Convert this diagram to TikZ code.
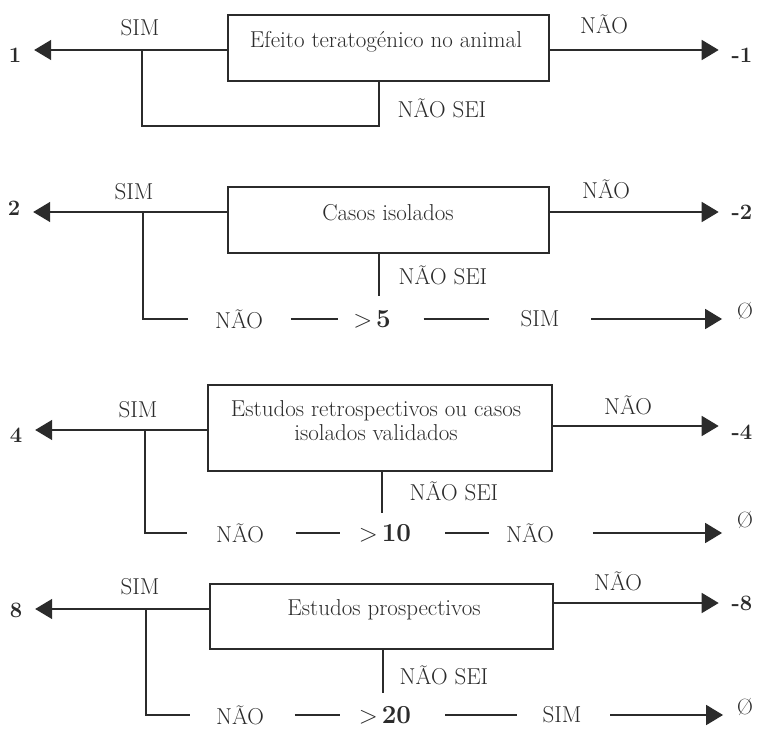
\documentclass[tikz,border=0pt]{standalone}
\usepackage{fontspec}
\usetikzlibrary{arrows.meta}
\definecolor{ink}{HTML}{2B2B2B}
\newcommand{\bignum}[1]{$>$\,\textbf{\fontsize{26}{28}\selectfont #1}}
\begin{document}
\begin{tikzpicture}[x=1pt,y=-1pt,
  every node/.style={inner sep=0pt, outer sep=0pt, text=ink},
  txt/.style={font=\fontsize{23}{24}\selectfont},
  num/.style={font=\fontsize{22}{24}\selectfont\bfseries},
  big/.style={font=\fontsize{23}{26}\selectfont},
  emptyset/.style={font=\fontsize{22}{24}\selectfont},
  box/.style={draw=ink, line width=1.6pt},
  conn/.style={draw=ink, line width=1.7pt},
  arr/.style={conn, -{Triangle[length=17pt,width=20pt]}}]
\useasboundingbox (0,0) rectangle (761,733);
\fill[white] (0,0) rectangle (761,733);

% ---------- step 1: animal data ----------
\node[box, minimum width=321pt, minimum height=66pt] (b1) at (388.5,48) {};
\node[txt] (t1) at (386,42) {Efeito teratogénico no animal};
\coordinate (j1) at (142,50);
\coordinate (k1) at (379,126);
\node[num] (n1) at (15,55) {1};
\node[num] (m1) at (742,55) {-1};
\node[txt] (s1) at (140,28) {SIM};
\node[txt] (o1) at (604,24) {NÃO};
\node[txt] (u1) at (442,108) {NÃO SEI};
\draw[arr, shorten >=13pt] (j1 -| b1.west) -- (j1 -| n1.east);
\draw[arr, shorten >=13pt] (j1 -| b1.east) -- (j1 -| m1.west);
\draw[conn] (j1) |- (k1) -- (k1 |- b1.south);

% ---------- step 2: isolated cases ----------
\node[box, minimum width=321pt, minimum height=66pt] (b2) at (388.5,220) {};
\node[txt] (t2) at (388,213) {Casos isolados};
\coordinate (j2) at (143,212);
\coordinate (d2) at (379,296);
\node[num] (n2) at (14,208) {2};
\node[num] (m2) at (742,212) {-2};
\node[txt] (s2) at (134,192) {SIM};
\node[txt] (o2) at (606,189) {NÃO};
\node[txt] (u2) at (443,275) {NÃO SEI};
\node[txt] (p2) at (239,319) {NÃO};
\node[big] (g2) at (372,319) {\bignum{5}};
\node[txt] (q2) at (540,319) {SIM};
\node[emptyset] (z2) at (745,311) {Ø};
\draw[arr, shorten >=13pt] (j2 -| b2.west) -- (j2 -| n2.east);
\draw[arr, shorten >=13pt] (j2 -| b2.east) -- (j2 -| m2.west);
\draw[conn] (d2 |- b2.south) -- (d2);
\draw[conn, shorten >=27pt] (j2) |- (p2.west);
\draw[conn, shorten <=28pt, shorten >=15pt] (p2.east) -- (p2.east -| g2.west);
\draw[conn, shorten <=33pt, shorten >=32pt] (p2.east -| g2.east) -- (p2.east -| q2.west);
\draw[arr, shorten <=32pt, shorten >=15pt] (p2.east -| q2.east) -- (p2.east -| z2.west);

% ---------- step 3: retrospective studies ----------
\node[box, minimum width=344pt, minimum height=86pt] (b3) at (380,428) {};
\node[txt, align=center] (t3) at (376,421) {Estudos retrospectivos ou casos\\isolados validados};
\coordinate (j3) at (145,430);
\coordinate (r3) at (600,426);
\coordinate (d3) at (382,513);
\node[num] (n3) at (16,435) {4};
\node[num] (m3) at (742,432) {-4};
\node[txt] (s3) at (138,410) {SIM};
\node[txt] (o3) at (628,405) {NÃO};
\node[txt] (u3) at (454,491) {NÃO SEI};
\node[txt] (p3) at (240,533) {NÃO};
\node[big] (g3) at (385,533) {\bignum{10}};
\node[txt] (q3) at (530,533) {NÃO};
\node[emptyset] (z3) at (745,520) {Ø};
\draw[arr, shorten >=13pt] (j3 -| b3.west) -- (j3 -| n3.east);
\draw[arr, shorten >=13pt] (r3 -| b3.east) -- (r3 -| m3.west);
\draw[conn] (d3 |- b3.south) -- (d3);
\draw[conn, shorten >=29pt] (j3) |- (p3.west);
\draw[conn, shorten <=32pt, shorten >=19pt] (p3.east) -- (p3.east -| g3.west);
\draw[conn, shorten <=34pt, shorten >=17pt] (p3.east -| g3.east) -- (p3.east -| q3.west);
\draw[arr, shorten <=39pt, shorten >=15pt] (p3.east -| q3.east) -- (p3.east -| z3.west);

% ---------- step 4: prospective studies ----------
\node[box, minimum width=343pt, minimum height=65pt] (b4) at (381.5,616.5) {};
\node[txt] (t4) at (384,610) {Estudos prospectivos};
\coordinate (j4) at (146,609);
\coordinate (r4) at (600,603);
\coordinate (d4) at (383,693);
\node[num] (n4) at (16,610) {8};
\node[num] (m4) at (742,603) {-8};
\node[txt] (s4) at (140,587) {SIM};
\node[txt] (o4) at (618,581) {NÃO};
\node[txt] (u4) at (444,675) {NÃO SEI};
\node[txt] (p4) at (240,715) {NÃO};
\node[big] (g4) at (385,715) {\bignum{20}};
\node[txt] (q4) at (562,715) {SIM};
\node[emptyset] (z4) at (745,707) {Ø};
\draw[arr, shorten >=13pt] (j4 -| b4.west) -- (j4 -| n4.east);
\draw[arr, shorten >=13pt] (r4 -| b4.east) -- (r4 -| m4.west);
\draw[conn] (d4 |- b4.south) -- (d4);
\draw[conn, shorten >=26pt] (j4) |- (p4.west);
\draw[conn, shorten <=31pt, shorten >=19pt] (p4.east) -- (p4.east -| g4.west);
\draw[conn, shorten <=34pt, shorten >=26pt] (p4.east -| g4.east) -- (p4.east -| q4.west);
\draw[arr, shorten <=29pt, shorten >=14pt] (p4.east -| q4.east) -- (p4.east -| z4.west);
\end{tikzpicture}
\end{document}
